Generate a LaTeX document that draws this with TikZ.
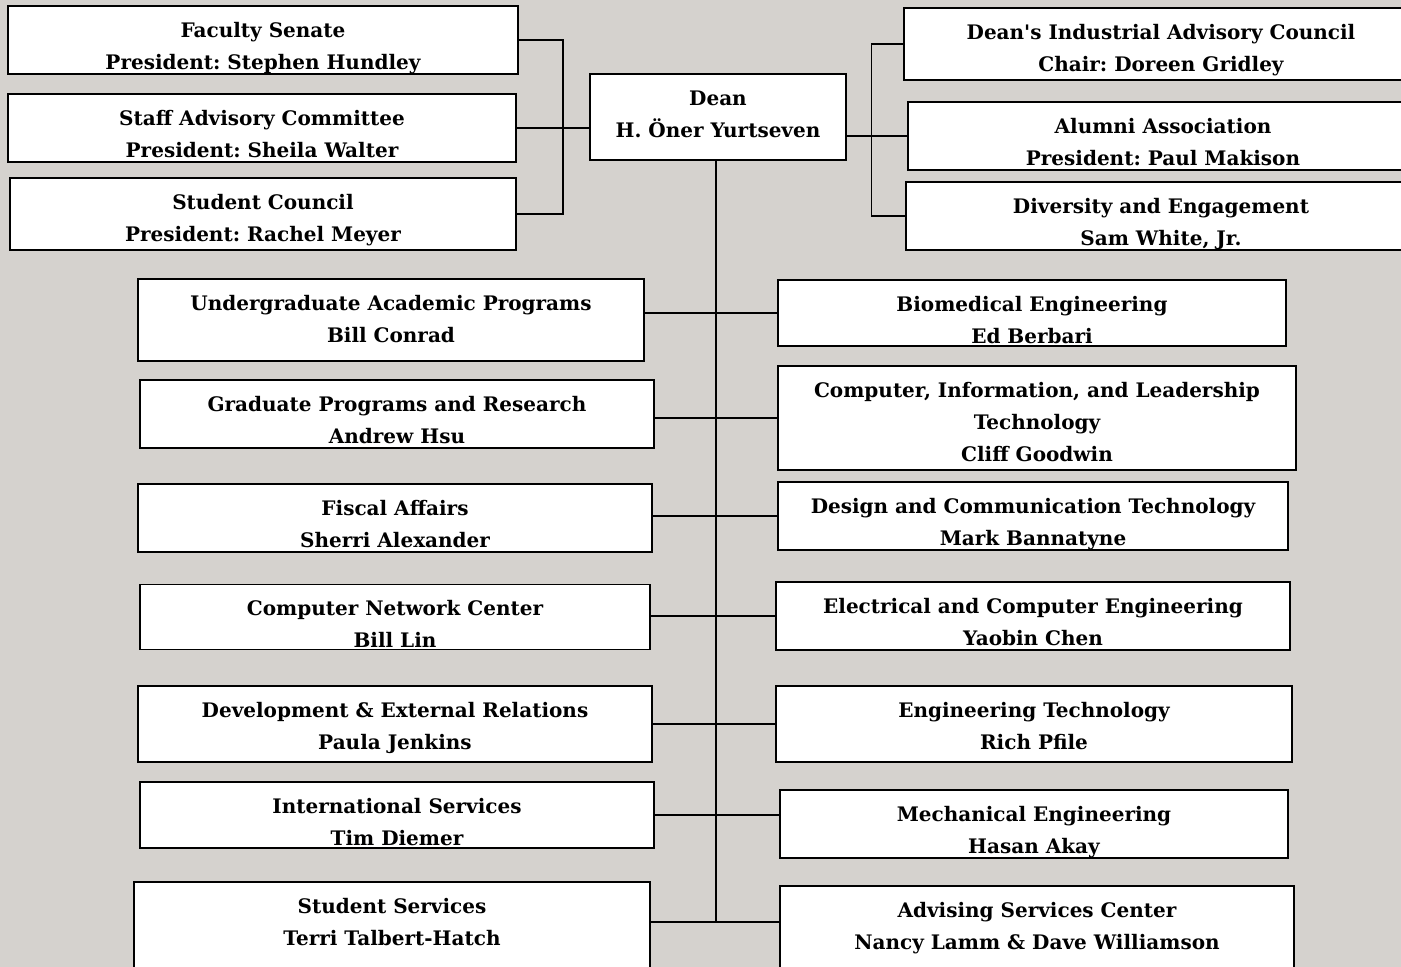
\documentclass[tikz,border=0pt]{standalone}
\usepackage{fontspec}
\setmainfont{DejaVu Serif}
\usetikzlibrary{positioning}
\definecolor{slate}{RGB}{213,210,206}
\frenchspacing
\newcommand{\lines}[1]{\begin{tabular}[t]{@{}c@{}}#1\end{tabular}}

\begin{document}
\begin{tikzpicture}[x=1pt,y=-1pt,
      every node/.style={font=\bfseries\fontsize{20}{32}\selectfont},
      unit/.style 2 args={draw,fill=white,line width=1.5pt,inner sep=0pt,
        minimum width=#1,text height=31pt,text depth=#2},
      link/.style={line width=1.5pt}]
      \useasboundingbox (0,0) rectangle (1401,967);
      \fill[slate] (0,0) rectangle (1401,967);
      % dean and the councils beside him
      \node[unit={256}{55pt}] (dean) at (718,117) {\lines{Dean\\H. Öner Yurtseven}};
      \node[unit={510}{37pt}] (fs) at (263,40) {\lines{Faculty Senate\\President: Stephen Hundley}};
      \node[unit={508}{37pt}] (sac) at (262,128) {\lines{Staff Advisory Committee\\President: Sheila Walter}};
      \node[unit={506}{41pt}] (sc) at (263,214) {\lines{Student Council\\President: Rachel Meyer}};
      \node[unit={514}{41pt}] (diac) at (1161,44) {\lines{Dean\textquotesingle s Industrial Advisory Council\\Chair: Doreen Gridley}};
      \node[unit={510}{37pt}] (alum) at (1163,136) {\lines{Alumni Association\\President: Paul Makison}};
      \node[unit={510}{37pt}] (div) at (1161,216) {\lines{Diversity and Engagement\\Sam White, Jr.}};
      % offices on the left
      \node[unit={506}{51pt}] (ugrad) at (391,320) {\lines{Undergraduate Academic Programs\\Bill Conrad}};
      \node[unit={514}{37pt}] (grad) at (397,414) {\lines{Graduate Programs and Research\\Andrew Hsu}};
      \node[unit={514}{37pt}] (fisc) at (395,518) {\lines{Fiscal Affairs\\Sherri Alexander}};
      \node[unit={510}{34pt}] (cnc) at (395,617) {\lines{Computer Network Center\\Bill Lin}};
      \node[unit={514}{45pt}] (dev) at (395,724) {\lines{Development \& External Relations\\Paula Jenkins}};
      \node[unit={514}{35pt}] (intl) at (397,815) {\lines{International Services\\Tim Diemer}};
      \node[unit={516}{69pt}] (ss) at (392,932) {\lines{Student Services\\Terri Talbert-Hatch}};
      % departments on the right
      \node[unit={508}{35pt}] (bme) at (1032,313) {\lines{Biomedical Engineering\\Ed Berbari}};
      \node[unit={518}{73pt}] (cilt) at (1037,418) {\lines{Computer, Information, and Leadership\\Technology\\Cliff Goodwin}};
      \node[unit={510}{37pt}] (dct) at (1033,516) {\lines{Design and Communication Technology\\Mark Bannatyne}};
      \node[unit={514}{37pt}] (ece) at (1033,616) {\lines{Electrical and Computer Engineering\\Yaobin Chen}};
      \node[unit={516}{45pt}] (et) at (1034,724) {\lines{Engineering Technology\\Rich Pfile}};
      \node[unit={508}{37pt}] (me) at (1034,824) {\lines{Mechanical Engineering\\Hasan Akay}};
      \node[unit={514}{69pt}] (asc) at (1037,936) {\lines{Advising Services Center\\Nancy Lamm \& Dave Williamson}};
      \coordinate (tend) at (716,922);
      % brackets
      \draw[link] (fs.east) -- ++(44,0) |- (sc.east);
      \draw[link] (sac.east) -- (sac.east -| dean.west);
      \draw[link] (diac.west) -- ++(-32,0) |- (div.west);
      \draw[link] (dean.east |- alum.west) -- (alum.west);
      % trunk and branches
      \draw[link] (dean.south -| tend) -- (tend);
      \draw[link] (bme.west) -- (bme.west -| ugrad.east);
      \draw[link] (cilt.west) -- (cilt.west -| grad.east);
      \draw[link] (dct.west) -- (dct.west -| fisc.east);
      \draw[link] (ece.west) -- (ece.west -| cnc.east);
      \draw[link] (dev.east) -- (dev.east -| et.west);
      \draw[link] (intl.east) -- (intl.east -| me.west);
      \draw[link] (tend -| ss.east) -- (tend -| asc.west);
\end{tikzpicture}
\end{document}
